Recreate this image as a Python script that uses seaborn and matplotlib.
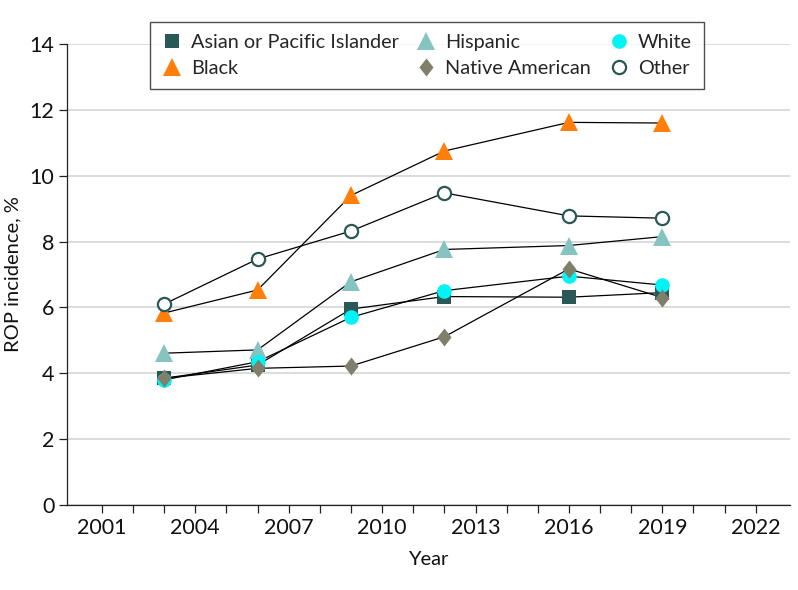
import numpy as np
import pandas as pd
import matplotlib
matplotlib.use("Agg")
import matplotlib.pyplot as plt
from matplotlib.lines import Line2D
import seaborn as sns

# Survey years and ROP incidence (%) by race / ethnicity
years = [2003, 2006, 2009, 2012, 2016, 2019]
asian = [3.85, 4.25, 5.95, 6.33, 6.31, 6.45]
black = [5.83, 6.53, 9.40, 10.75, 11.62, 11.60]
hispanic = [4.61, 4.71, 6.78, 7.76, 7.88, 8.15]
white = [3.80, 4.35, 5.70, 6.51, 6.95, 6.68]
native = [3.85, 4.15, 4.22, 5.11, 7.17, 6.30]
other = [6.10, 7.47, 8.32, 9.48, 8.78, 8.71]

groups = ["Asian or Pacific Islander", "Black", "Hispanic", "Native American", "White", "Other"]
series = [asian, black, hispanic, native, white, other]

df = pd.DataFrame({
    "Year": np.tile(years, len(groups)),
    "Incidence": np.concatenate(series),
    "Group": np.repeat(groups, len(years)),
})

diamond = [(0, 1), (0.78, 0), (0, -1), (-0.78, 0), (0, 1)]
styles = {
    "Asian or Pacific Islander": dict(marker="s", ms=10, mfc="#2a5856", mec="#2a5856", mew=0, z=3),
    "Black": dict(marker="^", ms=12.5, mfc="#ff7f0a", mec="#ff7f0a", mew=0, z=4),
    "Hispanic": dict(marker="^", ms=12.5, mfc="#86c4c2", mec="#86c4c2", mew=0, z=5),
    "White": dict(marker="o", ms=10.5, mfc="#00f4f6", mec="#00f4f6", mew=0, z=6),
    "Native American": dict(marker=diamond, ms=13, mfc="#807f6b", mec="#807f6b", mew=0, z=7),
    "Other": dict(marker="o", ms=9.5, mfc="white", mec="#2a5856", mew=1.6, z=8),
}

sns.set_style("white")
plt.rcParams["font.family"] = ["Lato", "DejaVu Sans"]

fig = plt.figure(figsize=(7.98, 5.90), dpi=100)
ax = fig.add_axes([67 / 798, 85 / 590, 723 / 798, 461 / 590])

# connecting lines first, markers on top
sns.lineplot(data=df, x="Year", y="Incidence", units="Group", estimator=None,
             color="black", lw=0.9, ax=ax, zorder=2, legend=False)
for g in groups:
    st = styles[g]
    sub = df[df["Group"] == g]
    ax.plot(sub["Year"], sub["Incidence"], ls="none", marker=st["marker"], ms=st["ms"],
            mfc=st["mfc"], mec=st["mec"], mew=st["mew"], zorder=st["z"], clip_on=False)

ax.set_xlim(1999.88, 2023.1)
ax.set_ylim(0, 14)
ax.set_yticks(np.arange(0, 15, 2))
ax.set_xticks(np.arange(2001, 2023, 1))
ax.set_xticklabels([str(y) if (y - 2001) % 3 == 0 else "" for y in range(2001, 2023)])
ax.yaxis.grid(True, color="#d9d9d9", lw=1.3)
ax.set_axisbelow(True)
for s in ["top", "right"]:
    ax.spines[s].set_visible(False)
for s in ["left", "bottom"]:
    ax.spines[s].set_color("#222222")
    ax.spines[s].set_linewidth(0.9)
ax.tick_params(axis="both", direction="out", length=6, width=0.9, color="#222222",
               labelsize=15.5, labelcolor="#111111", left=True, bottom=True)
ax.tick_params(axis="x", pad=3)
ax.tick_params(axis="y", pad=3)
ax.set_xlabel("Year", fontsize=14.5, labelpad=10, color="#111111")
ax.set_ylabel("ROP incidence, %", fontsize=14.5, labelpad=6, color="#111111")

handles = [Line2D([], [], ls="none", marker=styles[g]["marker"], ms=styles[g]["ms"],
                  mfc=styles[g]["mfc"], mec=styles[g]["mec"], mew=styles[g]["mew"])
           for g in groups]
leg = fig.legend(handles, groups, ncol=3, loc="upper left",
                 bbox_to_anchor=(150 / 798, 1 - 22 / 590), borderaxespad=0,
                 frameon=True, fancybox=False, fontsize=14.3, handletextpad=0.45,
                 columnspacing=0.9, borderpad=0.6, labelspacing=0.45, handlelength=1.0)
leg.get_frame().set_edgecolor("#222222")
leg.get_frame().set_linewidth(1.0)

fig.savefig("out.png", dpi=100)
